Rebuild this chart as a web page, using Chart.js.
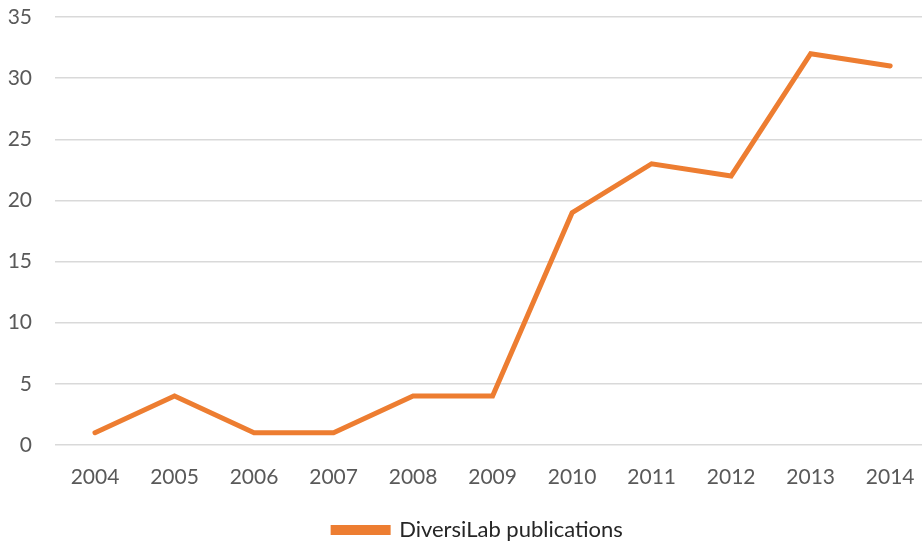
<!DOCTYPE html>
<html>
<head>
<meta charset="utf-8">
<script src="https://cdn.jsdelivr.net/npm/chart.js@4"></script>
<style>
  html, body { margin: 0; padding: 0; background: #fff; }
  #wrap { width: 922px; height: 541px; }
</style>
</head>
<body>
<div id="wrap"><canvas id="myChart"></canvas></div>
<script>
// data
var years = [2004, 2005, 2006, 2007, 2008, 2009, 2010, 2011, 2012, 2013, 2014];
var publications = [1, 4, 1, 1, 4, 4, 19, 23, 22, 32, 31];
var yTicks = [0, 5, 10, 15, 20, 25, 30, 35];
var seriesName = "DiversiLab publications";

var points = years.map(function(y, i){ return { x: y, y: publications[i] }; });

// legend sits a bit right of centre in the original
var legendShift = {
    id: 'legendShift',
    afterLayout: function(chart){
        chart.legend.left += 17;
        chart.legend.right += 17;
    }
};

var ctx = document.getElementById('myChart').getContext('2d');
var chart = new Chart(ctx, {
    type: 'line',
    data: {
        datasets: [{
            label: seriesName,
            data: points,
            borderColor: '#ED7D31',
            backgroundColor: '#ED7D31',
            borderWidth: 5,
            pointRadius: 0,
            borderCapStyle: 'round',
            borderJoinStyle: 'miter',
            tension: 0
        }]
    },
    options: {
        responsive: true,
        maintainAspectRatio: false,
        animation: false,
        layout: { padding: { top: 17, right: 0, left: 0, bottom: -10 } },
        plugins: {
            tooltip: { enabled: false },
            legend: {
                position: 'bottom',
                labels: {
                    boxWidth: 55,
                    boxHeight: 5,
                    padding: 5,
                    color: '#262626',
                    font: { family: 'Lato', size: 22 }
                }
            }
        },
        scales: {
            x: {
                type: 'linear',
                min: 2003.497,
                max: 2014.40,
                afterBuildTicks: function(axis){
                    axis.ticks = years.map(function(v){ return { value: v }; });
                },
                grid: { display: false, drawTicks: false },
                border: { display: false },
                ticks: {
                    padding: 20,
                    color: '#595959',
                    font: { family: 'Lato', size: 21 },
                    maxRotation: 0,
                    callback: function(v){ return String(v); }
                },
                afterFit: function(axis){
                    axis.height = 69;
                    axis.paddingLeft = 0;
                    axis.paddingRight = 0;
                }
            },
            y: {
                min: 0,
                max: 35,
                afterBuildTicks: function(axis){
                    axis.ticks = yTicks.map(function(v){ return { value: v }; });
                },
                grid: { color: '#D9D9D9', lineWidth: 1.5, drawTicks: false },
                border: { display: false },
                ticks: {
                    padding: 23,
                    color: '#595959',
                    font: { family: 'Lato', size: 21 }
                },
                afterFit: function(axis){
                    axis.width = 55;
                    axis.paddingTop = 0;
                    axis.paddingBottom = 0;
                }
            }
        }
    },
    plugins: [legendShift]
});
</script>
</body>
</html>
